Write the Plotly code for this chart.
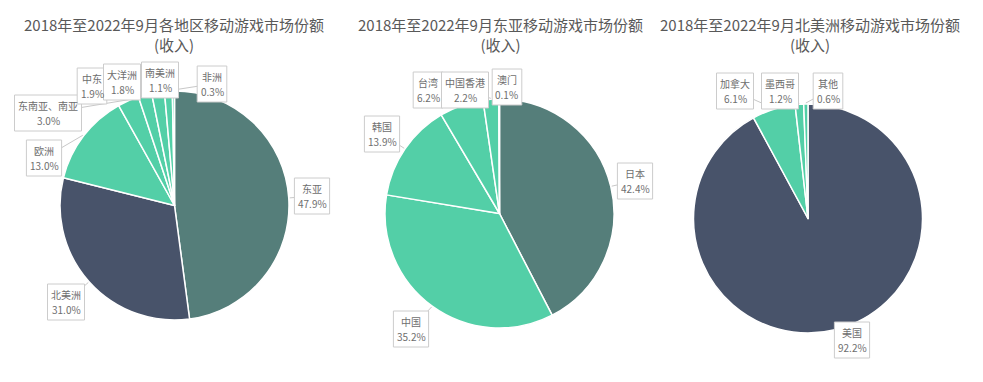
import math
import plotly.graph_objects as go

W, H = 983, 382

# ---------------- data ----------------
titles = [
    "2018年至2022年9月各地区移动游戏市场份额<br>(收入)",
    "2018年至2022年9月东亚移动游戏市场份额<br>(收入)",
    "2018年至2022年9月北美洲移动游戏市场份额<br>(收入)",
]

region_labels = ["东亚", "北美洲", "欧洲", "东南亚、南亚", "中东", "大洋洲", "南美洲", "非洲"]
region_values = [47.9, 31.0, 13.0, 3.0, 1.9, 1.8, 1.1, 0.3]

eastasia_labels = ["日本", "中国", "韩国", "台湾", "中国香港", "澳门"]
eastasia_values = [42.4, 35.2, 13.9, 6.2, 2.2, 0.1]

na_labels = ["美国", "加拿大", "墨西哥", "其他"]
na_values = [92.2, 6.1, 1.2, 0.6]

# ---------------- style / layout ----------------
TEAL = "#557e7a"
SLATE = "#48536a"
GREEN = "#53cfa7"

region_colors = [TEAL, SLATE] + [GREEN] * 6
eastasia_colors = [TEAL] + [GREEN] * 5
na_colors = [SLATE] + [GREEN] * 3

# pie centers (px) and radius
centers = [(174.5, 205.5), (499.5, 213.5), (808, 218.5)]
R = 114.5
title_x = [174, 500, 810]

# label box centers (px)
region_boxes = [(312, 196), (66, 302), (44, 158), (48, 113), (92, 86), (122, 82), (160, 80), (212, 84)]
eastasia_boxes = [(635, 181), (411, 329), (382, 134), (428, 90), (465, 90), (507, 87)]
na_boxes = [(852, 340), (735, 91), (780, 91), (828, 91)]

FONT = "Noto Sans CJK SC, Noto Sans, sans-serif"
LBL_SIZE = 10
BOX_H = 36
LINE_GAP = 15


def text_w(s):
    w = 0.0
    for c in s:
        if ord(c) > 0x2E80:
            w += LBL_SIZE
        elif c == ".":
            w += 0.28 * LBL_SIZE
        elif c == "%":
            w += 0.86 * LBL_SIZE
        else:
            w += 0.56 * LBL_SIZE
    return w


def px2x(x):
    return x / W


def px2y(y):
    return 1 - y / H


pies = [
    (region_labels, region_values, region_colors, region_boxes),
    (eastasia_labels, eastasia_values, eastasia_colors, eastasia_boxes),
    (na_labels, na_values, na_colors, na_boxes),
]

fig = go.Figure()
annotations = []
line_shapes = []
box_shapes = []

for i, (labels, values, colors, boxes) in enumerate(pies):
    cx, cy = centers[i]
    dom_x = [(cx - R) / W, (cx + R) / W]
    dom_y = [1 - (cy + R) / H, 1 - (cy - R) / H]
    fig.add_trace(go.Pie(
        labels=labels, values=values, sort=False, direction="clockwise",
        rotation=0, textinfo="none", hoverinfo="label+percent",
        marker=dict(colors=colors, line=dict(color="white", width=1.5)),
        domain=dict(x=dom_x, y=dom_y), showlegend=False,
    ))
    total = sum(values)
    cum = 0.0
    for lab, v, (bx, by) in zip(labels, values, boxes):
        mid = (cum + v / 2) / total * 2 * math.pi
        cum += v
        px = cx + (R + 1) * math.sin(mid)
        py = cy - (R + 1) * math.cos(mid)
        pct = f"{v:.1f}%"
        bw = max(text_w(lab), text_w(pct)) + 7
        line_shapes.append(dict(
            type="line", xref="paper", yref="paper",
            x0=px2x(bx), y0=px2y(by), x1=px2x(px), y1=px2y(py),
            line=dict(color="#c8c8c8", width=1), layer="above",
        ))
        box_shapes.append(dict(
            type="rect", xref="paper", yref="paper",
            x0=px2x(bx - bw / 2), x1=px2x(bx + bw / 2),
            y0=px2y(by - BOX_H / 2), y1=px2y(by + BOX_H / 2),
            fillcolor="white", line=dict(color="#cccccc", width=1), layer="above",
        ))
        for txt, dy in ((lab, -LINE_GAP / 2), (pct, LINE_GAP / 2)):
            annotations.append(dict(
                x=px2x(bx), y=px2y(by + dy), xref="paper", yref="paper",
                text=txt, showarrow=False, xanchor="center", yanchor="middle",
                font=dict(size=LBL_SIZE, color="#6e6e6e", family=FONT),
            ))
    annotations.append(dict(
        x=title_x[i] / W, y=1 - 34 / H, xref="paper", yref="paper",
        text=titles[i], showarrow=False, xanchor="center", yanchor="middle",
        font=dict(size=15, color="#595959", family=FONT), align="center",
    ))

fig.update_layout(
    width=W, height=H, margin=dict(l=0, r=0, t=0, b=0),
    paper_bgcolor="white", plot_bgcolor="white",
    annotations=annotations, shapes=line_shapes + box_shapes,
    font=dict(family=FONT),
)

fig.write_html("out.html", config={"displayModeBar": False},
               post_script="document.body.style.margin='0';")
